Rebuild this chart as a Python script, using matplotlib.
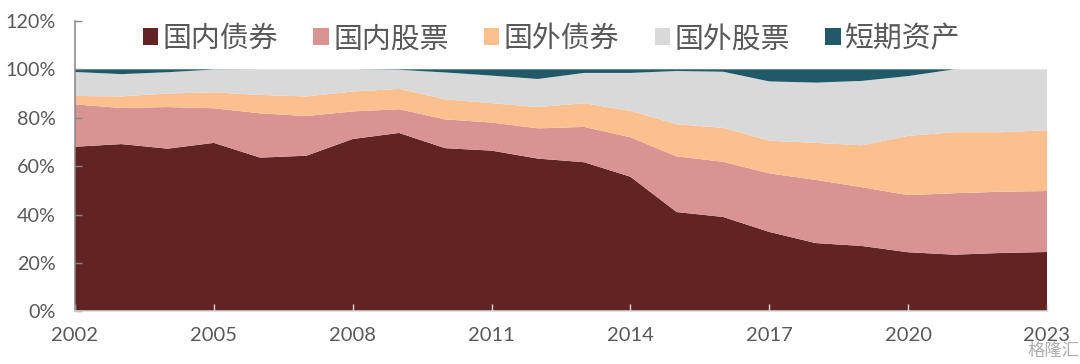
import matplotlib
matplotlib.use("Agg")
import matplotlib.pyplot as plt
from matplotlib.patches import Patch
import numpy as np

plt.rcParams['font.family'] = ['Lato', 'Noto Sans CJK SC', 'DejaVu Sans']

years = list(range(2002, 2024))
tick_years = [2002, 2005, 2008, 2011, 2014, 2017, 2020, 2023]
y_ticks = [0, 20, 40, 60, 80, 100, 120]
labels = ['国内债券', '国内股票', '国外债券', '国外股票', '短期资产']
colors = ['#622323', '#D99393', '#FBC08E', '#D9D9D9', '#215968']

dom_bond = [68.0, 69.1, 67.2, 69.6, 63.5, 64.3, 71.2, 73.7, 67.4, 66.4, 63.1,
            61.6, 55.6, 41.0, 39.0, 32.8, 28.2, 27.0, 24.4, 23.4, 24.1, 24.5]
dom_equity = [17.5, 14.9, 17.2, 14.3, 18.3, 16.4, 11.4, 9.8, 11.9, 11.6, 12.5,
              14.6, 16.3, 23.0, 22.8, 24.2, 26.1, 24.3, 23.6, 25.4, 25.3, 25.2]
for_bond = [3.5, 4.8, 5.6, 6.6, 7.6, 8.1, 8.2, 8.4, 8.3, 8.0, 8.8,
            9.8, 10.9, 13.3, 14.0, 13.5, 15.3, 17.3, 24.5, 25.2, 24.6, 25.1]
for_equity = [9.9, 9.2, 8.8, 9.4, 10.6, 11.2, 9.2, 7.9, 11.1, 11.4, 11.6,
              12.5, 15.7, 22.0, 23.2, 24.5, 24.9, 26.6, 24.7, 26.0, 26.0, 25.2]
short_term = [1.1, 2.0, 1.2, 0.1, 0.0, 0.0, 0.0, 0.2, 1.3, 2.6, 4.0,
              1.5, 1.5, 0.7, 1.0, 5.0, 5.5, 4.8, 2.8, 0.0, 0.0, 0.0]

text_color = '#595959'

fig = plt.figure(figsize=(10.8, 3.64), dpi=100)
# plot area in pixels: x 75-1047, y 21-311 of 1080x364
ax = fig.add_axes([75 / 1080, 1 - 311.3 / 364, 972 / 1080, 290.4 / 364])

ax.stackplot(years, dom_bond, dom_equity, for_bond, for_equity, short_term,
             colors=colors, linewidth=0)
ax.set_xlim(2002, 2023)
ax.set_ylim(0, 120)

ax.set_xticks(tick_years)
ax.set_yticks(y_ticks)
ax.set_yticklabels([f'{v}%' for v in y_ticks])
ax.tick_params(axis='x', direction='in', length=5, width=1, color='#D9D9D9',
               labelsize=14.5, labelcolor=text_color, pad=11)
ax.tick_params(axis='y', direction='in', length=5, width=1, color='#868686',
               labelsize=14.2, labelcolor=text_color, pad=14)

ax.spines['top'].set_visible(False)
ax.spines['right'].set_visible(False)
ax.spines['left'].set_color('#868686')
ax.spines['left'].set_linewidth(1.1)
ax.spines['bottom'].set_color('#D9D9D9')
ax.spines['bottom'].set_linewidth(1.1)

handles = [Patch(facecolor=c, edgecolor='none') for c in colors]
leg = ax.legend(handles, labels, ncol=5, frameon=False, loc='center left',
                bbox_to_anchor=(0.0695, 0.937), fontsize=20.8, labelcolor=text_color,
                handlelength=0.53, handleheight=0.53, handletextpad=0.16,
                columnspacing=1.22, borderpad=0, borderaxespad=0)
for t in leg.get_texts():
    t.set_fontfamily(['Noto Sans CJK SC', 'DejaVu Sans'])
    t.set_fontweight('light')

# watermark bottom right
fig.text(0.9995, 0.012, '格隆汇', ha='right', va='bottom', fontsize=12.5,
         color='#8C8C8C', alpha=0.7, family=['Noto Sans CJK SC', 'DejaVu Sans'])

fig.savefig('out.png', dpi=100)
